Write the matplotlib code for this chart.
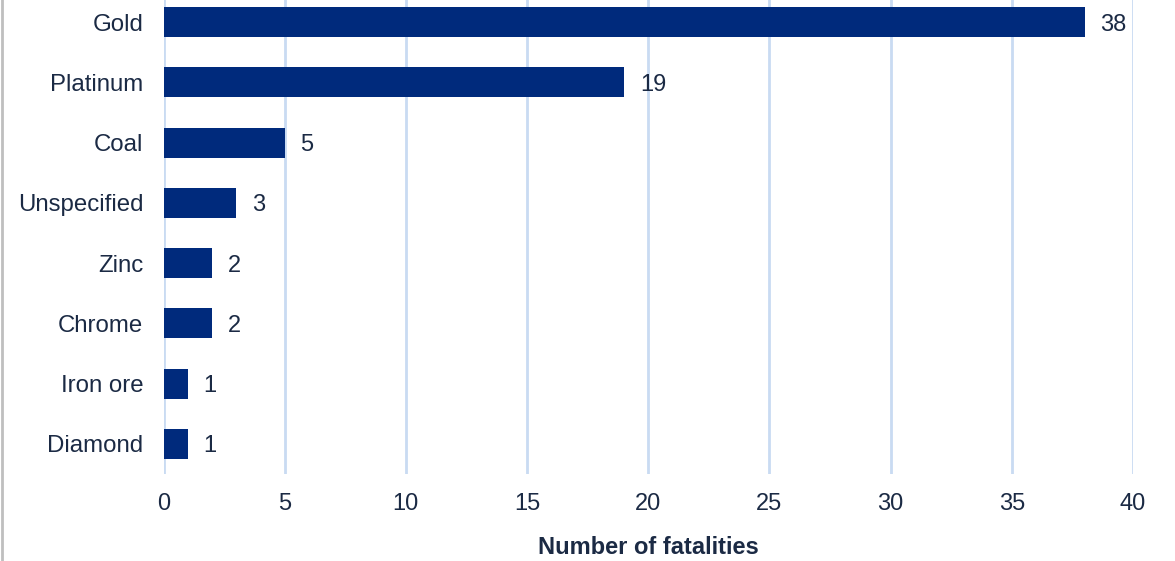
import numpy as np
import matplotlib.pyplot as plt

# Fatalities by commodity
categories = ['Gold', 'Platinum', 'Coal', 'Unspecified', 'Zinc', 'Chrome', 'Iron ore', 'Diamond']
fatalities = [38, 19, 5, 3, 2, 2, 1, 1]

plt.rcParams['font.family'] = ['Liberation Sans', 'DejaVu Sans']
txt = '#1B2A44'
bar_col = '#002A7C'
grid_col = '#C9DBF2'

fig = plt.figure(figsize=(11.75, 5.61), dpi=100)
ax = fig.add_axes([163.5 / 1175, 87 / 561, (1133 - 163.5) / 1175, 482 / 561])

y = np.arange(len(categories))
ax.barh(y, fatalities, height=0.5, color=bar_col, zorder=3)
for yi, v in zip(y, fatalities):
    ax.text(v + 0.65, yi, str(v), va='center_baseline', ha='left', fontsize=17, color=txt)

ax.set_yticks(y)
ax.set_yticklabels(categories, fontsize=17.3, color=txt)
ax.set_ylim(len(categories) - 0.5, -0.5)
ax.set_xlim(0, 40)
ax.set_xticks(np.arange(0, 41, 5))
ax.tick_params(axis='x', labelsize=17, colors=txt, length=0, pad=14)
ax.tick_params(axis='y', length=0, pad=14.5)
ax.grid(axis='x', color=grid_col, linewidth=2, zorder=0)
for s in ax.spines.values():
    s.set_visible(False)
ax.set_xlabel('Number of fatalities', fontsize=17, fontweight='bold', color=txt, labelpad=15)

# thin gray border on the left edge
fig.add_artist(plt.Line2D([1.5 / 1175, 1.5 / 1175], [0, 1], color='#BFBFBF', linewidth=2, transform=fig.transFigure))

fig.savefig('out.png', dpi=100)
